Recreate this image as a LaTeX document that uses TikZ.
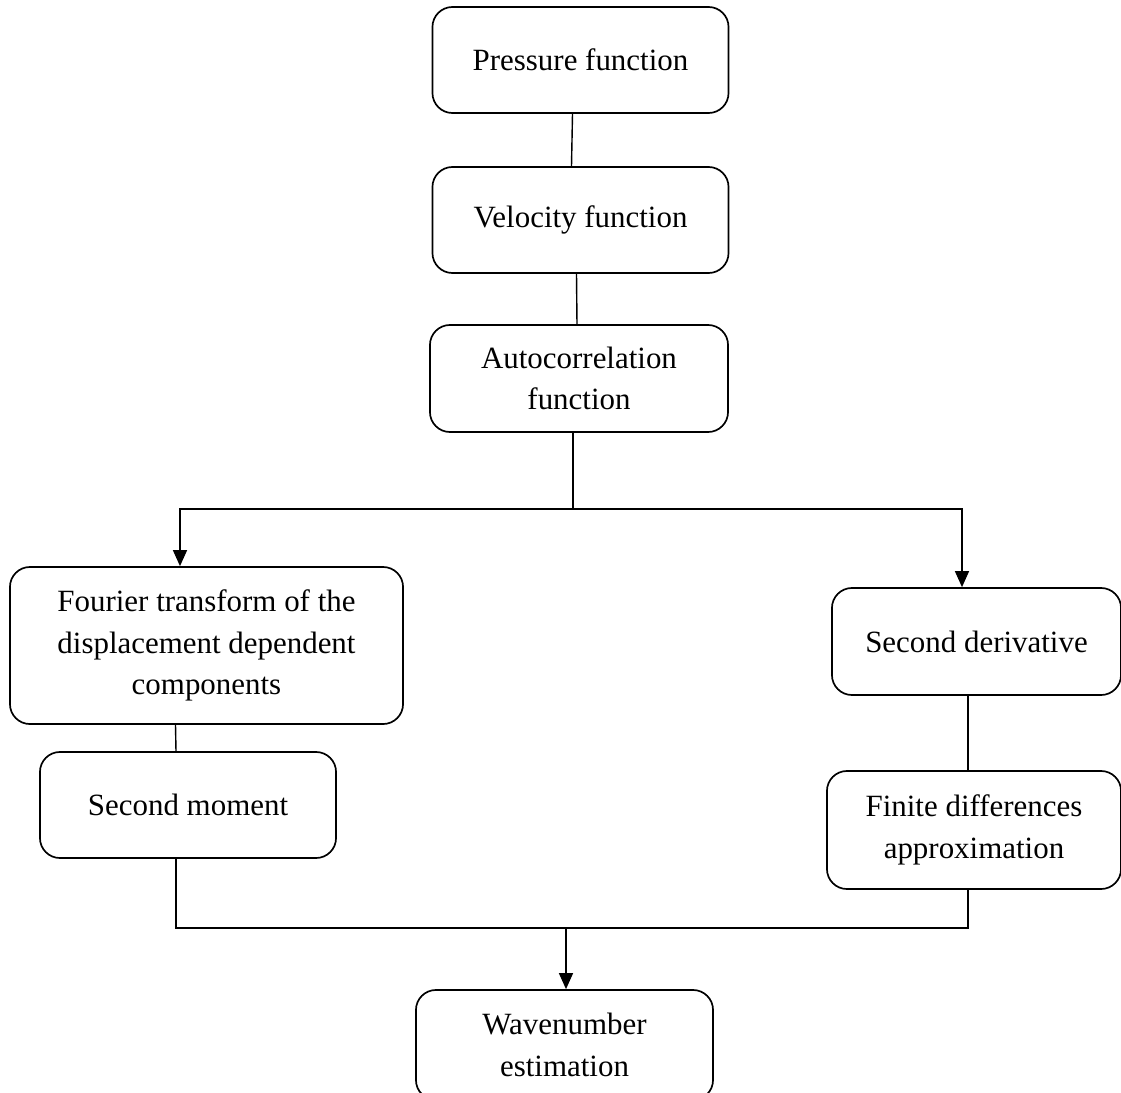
\documentclass[tikz,border=0pt]{standalone}
\usepackage{fontspec}
\setmainfont{Liberation Serif}
\usetikzlibrary{arrows.meta,calc}

\begin{document}
\begin{tikzpicture}[x=0.025cm,y=-0.025cm,
 b/.style={draw,line width=1.2pt,rounded corners=0.5cm,align=center,inner sep=2pt,font=\fontsize{22}{29.5}\selectfont,minimum width=7.4cm,minimum height=2.65cm},
 l/.style={line width=1pt},
 a/.style={-{Triangle[length=4mm,width=3.5mm]},line width=1pt}]
\useasboundingbox (0,0) rectangle (1121,1093);
% main chain
\node[b] (pf) at (580.5,60) {Pressure function};
\node[b] (vf) at (580.5,220) {Velocity function};
\node[b,minimum width=7.45cm,minimum height=2.675cm] (ac) at (579,378.5) {Autocorrelation\\function};
\draw[l] ($(pf.south)+(-8,0)$)--($(vf.north)+(-9,0)$);
\draw[l] ($(vf.south)+(-4,0)$)--($(ac.north)+(-2,0)$);
% left branch
\node[b,minimum width=9.825cm,minimum height=3.925cm] (ft) at (206.5,645.5) {Fourier transform of the\\displacement dependent\\components};
\node[b] (sm) at (188,805) {Second moment};
\draw[l] ($(ft.south)+(-31,0)$)--($(sm.north)+(-12,0)$);
% right branch
\node[b,minimum width=7.225cm,minimum height=2.675cm] (sd) at (976.5,641.5) {Second derivative};
\node[b,minimum width=7.35cm,minimum height=2.95cm] (fd) at (974,830) {Finite differences\\approximation};
\draw[l] ($(sd.south)+(-8.5,0)$)--($(fd.north)+(-6,0)$);
% split
\coordinate (jt) at (573,509);
\draw[l] (ac.south -| jt)--(jt);
\draw[a] (jt)-|($(ft.north)+(-26.5,0)$);
\draw[a] (jt)-|($(sd.north)+(-14.5,0)$);
% merge
\node[b,minimum width=7.425cm,minimum height=2.75cm] (we) at (564.5,1045) {Wavenumber\\estimation};
\coordinate (jb) at (566,928);
\draw[l] ($(sm.south)+(-12,0)$)|-(jb)-|($(fd.south)+(-6,0)$);
\draw[a] (jb)--(we.north -| jb);
\end{tikzpicture}
\end{document}
